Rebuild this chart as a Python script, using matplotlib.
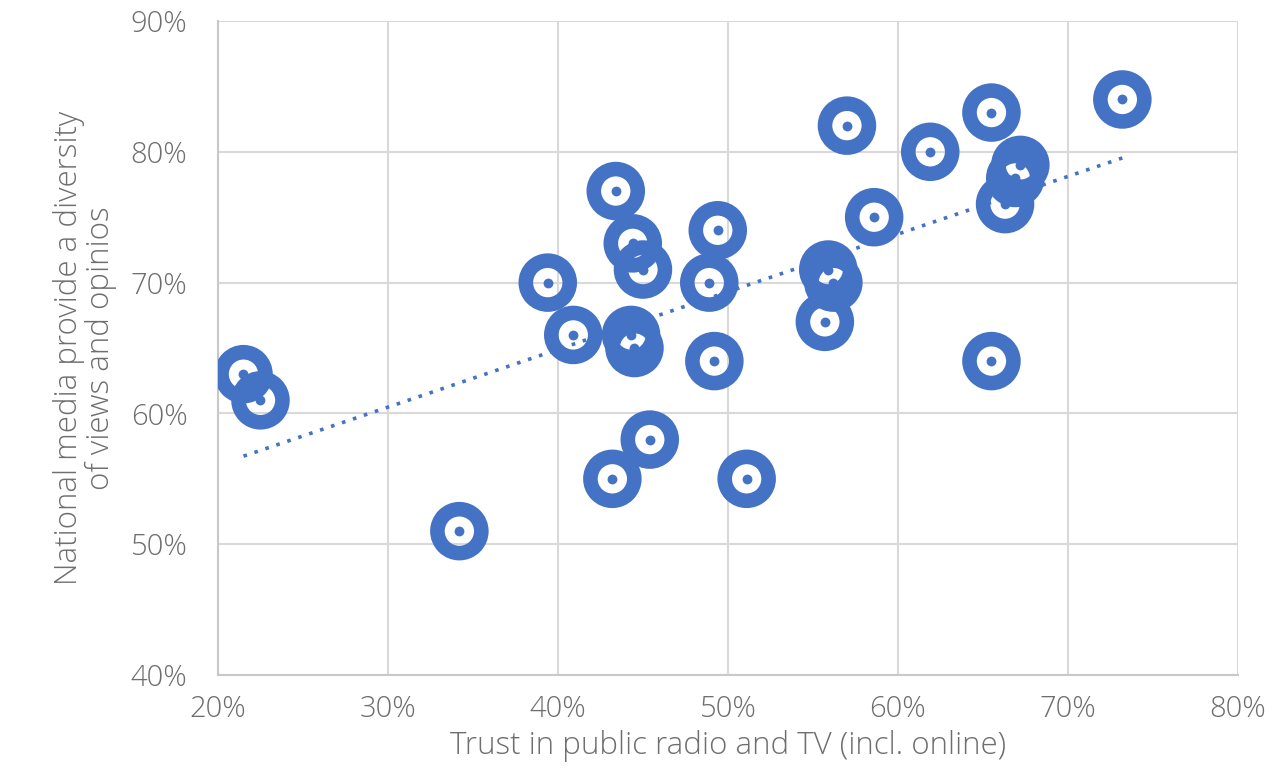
import numpy as np
import matplotlib
matplotlib.use("Agg")
from matplotlib import pyplot as plt
from matplotlib.ticker import PercentFormatter

# trust in public radio/TV (x) vs. perceived diversity of national media (y), in %
trust = [21.5, 22.5, 34.2, 39.4, 40.9, 43.4, 43.2, 44.4, 45.0, 44.3, 44.5,
         45.4, 49.4, 48.9, 49.2, 51.1, 57.0, 55.9, 56.2, 55.7, 58.6, 61.9,
         65.5, 65.5, 67.2, 66.9, 66.3, 73.2]
diversity = [63, 61, 51, 70, 66, 77, 55, 73, 71, 66, 65,
             58, 74, 70, 64, 55, 82, 71, 70, 67, 75, 80,
             83, 64, 79, 78, 76, 84]

x_ticks = [20, 30, 40, 50, 60, 70, 80]
y_ticks = [40, 50, 60, 70, 80, 90]

BLUE = "#4472c4"
TEXT = "#6e6e6e"

plt.rcParams["font.family"] = ["Open Sans", "DejaVu Sans"]

fig = plt.figure(figsize=(12.74, 7.72), dpi=100)
ax = fig.add_axes([0.1711, 0.1256, 0.8006, 0.8472])

x = np.array(trust)
y = np.array(diversity)

# linear trendline across the data range
slope, intercept = np.polyfit(x, y, 1)
xs = np.array([x.min(), x.max()])
ax.plot(xs, slope * xs + intercept, color=BLUE, linestyle=(0, (1, 2.2)),
        linewidth=2.6, zorder=2)

# thick hollow rings with a small dot in the middle
ax.scatter(x, y, s=1000, facecolors="none", edgecolors=BLUE, linewidths=10.5,
           zorder=3)
ax.scatter(x, y, s=50, color=BLUE, zorder=4, linewidths=0)

ax.set_xlim(20, 80)
ax.set_ylim(40, 90)
ax.set_xticks(x_ticks)
ax.set_yticks(y_ticks)
ax.xaxis.set_major_formatter(PercentFormatter(decimals=0))
ax.yaxis.set_major_formatter(PercentFormatter(decimals=0))
ax.tick_params(length=0, labelsize=21, labelcolor=TEXT)
ax.tick_params(axis="x", pad=14)
ax.tick_params(axis="y", pad=22)
for lbl in ax.get_xticklabels() + ax.get_yticklabels():
    lbl.set_fontweight("light")

ax.grid(True, color="#d9d9d9", linewidth=1.5)
ax.set_axisbelow(True)
for side in ["top", "right"]:
    ax.spines[side].set_visible(False)
for side in ["left", "bottom"]:
    ax.spines[side].set_color("#c8c8c8")
    ax.spines[side].set_linewidth(1.5)

ax.set_xlabel("Trust in public radio and TV (incl. online)", fontsize=22.5,
              color=TEXT, fontweight="light", labelpad=4)
ax.set_ylabel("National media provide a diversity\nof views and opinios",
              fontsize=22.5, color=TEXT, fontweight="light", labelpad=10,
              linespacing=1.0)

fig.savefig("out.png", dpi=100)
